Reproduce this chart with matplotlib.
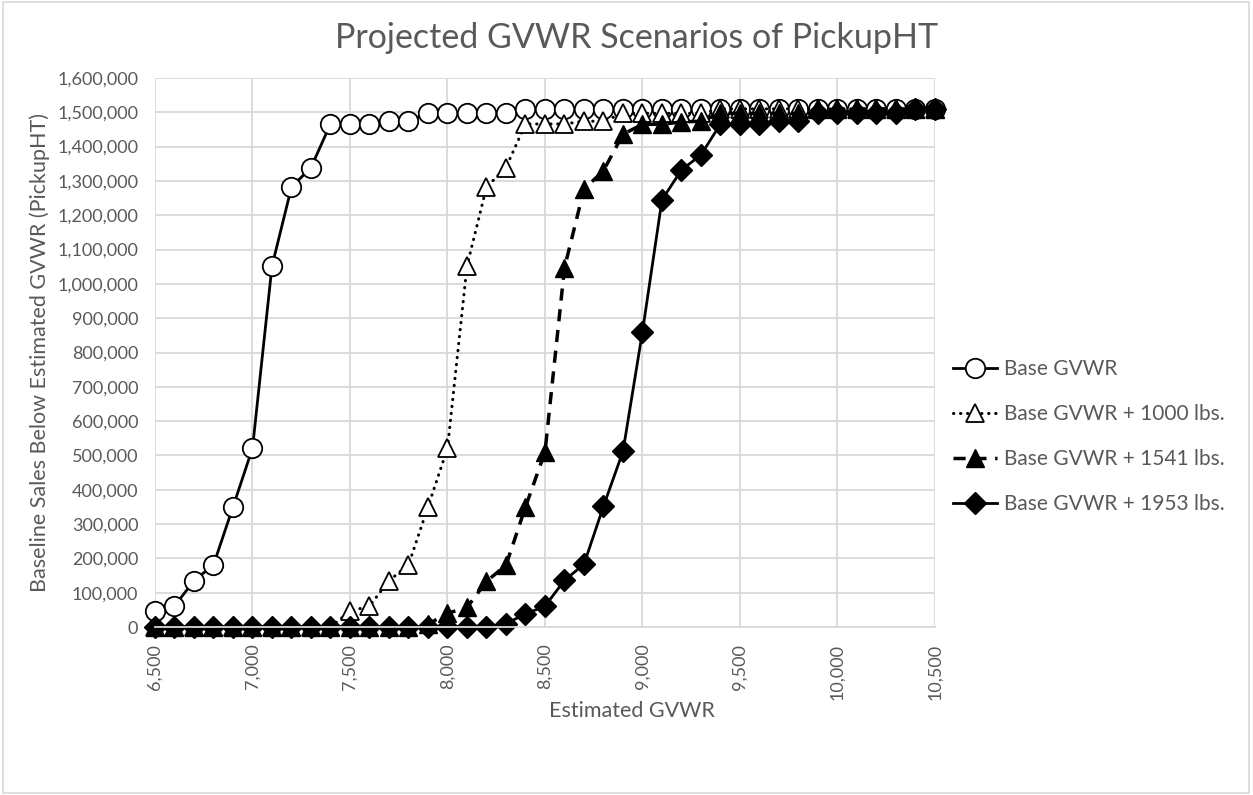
# Projected GVWR scenarios of PickupHT - cumulative baseline sales below each estimated GVWR

import matplotlib.pyplot as plt
from matplotlib.ticker import FuncFormatter, MultipleLocator
from matplotlib.patches import Rectangle

plt.rcParams['font.family'] = ['Lato', 'DejaVu Sans']

# Estimated GVWR (lbs), one point every 100 lbs
gvwr = [6500, 6600, 6700, 6800, 6900, 7000, 7100, 7200, 7300, 7400,
        7500, 7600, 7700, 7800, 7900, 8000, 8100, 8200, 8300, 8400,
        8500, 8600, 8700, 8800, 8900, 9000, 9100, 9200, 9300, 9400,
        9500, 9600, 9700, 9800, 9900, 10000, 10100, 10200, 10300, 10400,
        10500]

# Baseline sales below the estimated GVWR
base = [46000, 61000, 135000, 181000, 350000, 521000, 1052000, 1282000, 1339000, 1466000,
        1466000, 1466000, 1474000, 1474000, 1497000, 1497000, 1497000, 1497000, 1497000, 1510000,
        1510000, 1510000, 1510000, 1510000, 1510000, 1510000, 1510000, 1510000, 1510000, 1510000,
        1510000, 1510000, 1510000, 1510000, 1510000, 1510000, 1510000, 1510000, 1510000, 1510000,
        1510000]

plus_1000 = [0, 0, 0, 0, 0, 0, 0, 0, 0, 0,
             46000, 61000, 135000, 181000, 350000, 521000, 1052000, 1282000, 1339000, 1466000,
             1466000, 1466000, 1474000, 1474000, 1497000, 1497000, 1497000, 1497000, 1497000, 1510000,
             1510000, 1510000, 1510000, 1510000, 1510000, 1510000, 1510000, 1510000, 1510000, 1510000,
             1510000]

plus_1541 = [0, 0, 0, 0, 0, 0, 0, 0, 0, 0,
             0, 0, 0, 0, 8000, 40000, 57000, 133000, 180000, 350000,
             510000, 1047000, 1276000, 1330000, 1436000, 1465000, 1465000, 1472000, 1474000, 1497000,
             1497000, 1497000, 1497000, 1497000, 1510000, 1510000, 1510000, 1510000, 1510000, 1510000,
             1510000]

plus_1953 = [0, 0, 0, 0, 0, 0, 0, 0, 0, 0,
             0, 0, 0, 0, 0, 0, 0, 0, 10000, 38000,
             61000, 136000, 183000, 352000, 512000, 861000, 1245000, 1332000, 1376000, 1466000,
             1466000, 1466000, 1474000, 1474000, 1497000, 1497000, 1497000, 1497000, 1497000, 1510000,
             1510000]

labels = ['Base GVWR', 'Base GVWR + 1000 lbs.', 'Base GVWR + 1541 lbs.', 'Base GVWR + 1953 lbs.']

grey_text = '#595959'
grid_col = '#d9d9d9'

fig = plt.figure(figsize=(12.53, 7.95), dpi=100)
ax = fig.add_axes([0.1237, 0.2113, 0.6225, 0.6906])

ax.plot(gvwr, base, color='black', lw=2, marker='o', ms=14, clip_on=False,
        mfc='white', mec='black', mew=1.3, label=labels[0])
ax.plot(gvwr, plus_1000, color='black', lw=2.2, linestyle=(0, (0.1, 2.2)),
        dash_capstyle='round', marker='^', ms=13, mfc='white', mec='black',
        mew=1.3, clip_on=False, label=labels[1])
ax.plot(gvwr, plus_1541, color='black', lw=2.5, linestyle=(0, (3.5, 2.5)),
        marker='^', ms=13, mfc='black', mec='black', clip_on=False, label=labels[2])
ax.plot(gvwr, plus_1953, color='black', lw=2, marker='D', ms=11,
        mfc='black', mec='black', clip_on=False, label=labels[3])

ax.set_xlim(6500, 10500)
ax.set_ylim(0, 1600000)
ax.xaxis.set_major_locator(MultipleLocator(500))
ax.yaxis.set_major_locator(MultipleLocator(100000))
fmt = FuncFormatter(lambda v, p: '{:,.0f}'.format(v))
ax.xaxis.set_major_formatter(fmt)
ax.yaxis.set_major_formatter(fmt)

ax.grid(True, color=grid_col, lw=1.3)
ax.set_axisbelow(True)
for s in ['left', 'top', 'right']:
    ax.spines[s].set_visible(False)
ax.spines['bottom'].set_color(grid_col)
ax.spines['bottom'].set_linewidth(1.3)
ax.tick_params(length=0, colors=grey_text, labelsize=13, pad=12)
plt.setp(ax.get_xticklabels(), rotation=90)

ax.set_xlabel('Estimated GVWR', color=grey_text, fontsize=15.5)
ax.xaxis.set_label_coords(0.611, -0.134)
ax.set_ylabel('Baseline Sales Below Estimated GVWR (PickupHT)', color=grey_text,
              fontsize=15.5)
ax.yaxis.set_label_coords(-0.135, 0.5)
fig.text(0.508, 0.952, 'Projected GVWR Scenarios of PickupHT', ha='center', va='center',
         color=grey_text, fontsize=24.5)

leg = ax.legend(loc='center left', bbox_to_anchor=(0.7526, 0.451),
                bbox_transform=fig.transFigure, frameon=False, fontsize=15,
                handlelength=2.1, labelspacing=1.2, handletextpad=0.35,
                borderpad=0, labelcolor=grey_text)

# light border around the chart area
fig.patches.append(Rectangle((0.002, 0.003), 0.995, 0.994, transform=fig.transFigure,
                             fill=False, edgecolor=grid_col, lw=1.2))

fig.savefig('out.png', dpi=100)
